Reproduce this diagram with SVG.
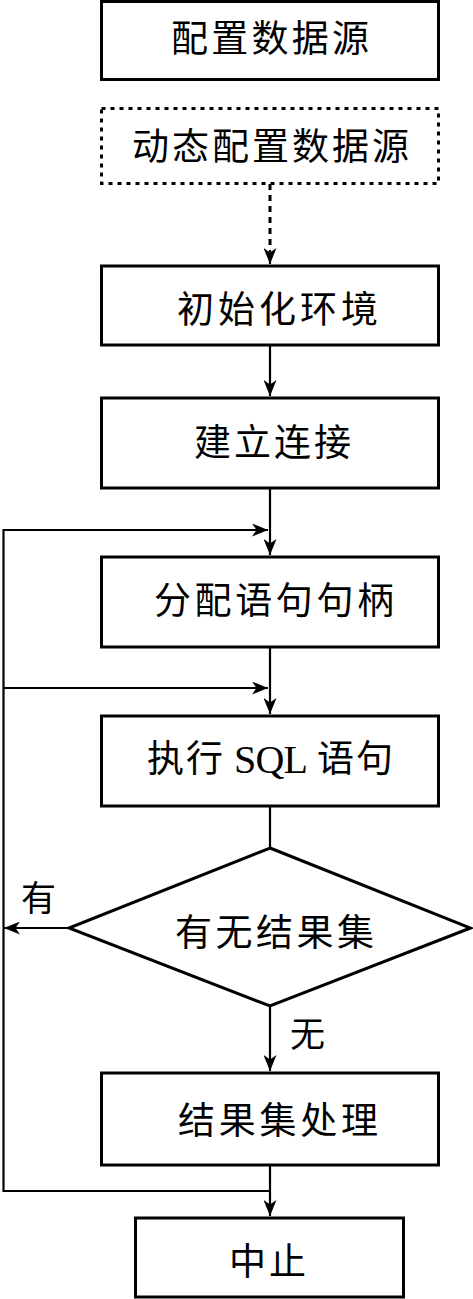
<svg xmlns="http://www.w3.org/2000/svg" width="473" height="1299" viewBox="0 0 473 1299">
<style>
.box{fill:#fff;stroke:#000;stroke-width:3}
.dot{fill:#fff;stroke:#000;stroke-width:3;stroke-dasharray:4 5}
.ln{fill:none;stroke:#000;stroke-width:2.2}
.dash{fill:none;stroke:#000;stroke-width:3;stroke-dasharray:6 5}
text{font-family:"Liberation Serif","Noto Sans CJK SC",serif;font-size:37px;fill:#000;dominant-baseline:central}
.lbl{font-size:35px}
</style>
<defs>
<marker id="ah" markerUnits="userSpaceOnUse" markerWidth="17" markerHeight="13" refX="16" refY="6.5" orient="auto">
<path d="M0,0 L16,6.5 L0,13 L4.5,6.5 z" fill="#000"/>
</marker>
</defs>
<g id="connectors">
<path class="dash" d="M270,184 V250"/>
<path class="ln" d="M270,250 V264" marker-end="url(#ah)"/>
<path class="ln" d="M270,345 V396" marker-end="url(#ah)"/>
<path class="ln" d="M270,488 V555" marker-end="url(#ah)"/>
<path class="ln" d="M270,647 V714" marker-end="url(#ah)"/>
<path class="ln" d="M270,806 V848"/>
<path class="ln" d="M69,928 H4" marker-end="url(#ah)"/>
<path class="ln" d="M270,1006 V1071" marker-end="url(#ah)"/>
<path class="ln" d="M270,1165 V1216" marker-end="url(#ah)"/>
<path class="ln" d="M270,1191 H3.5 V530 H268" marker-end="url(#ah)"/>
<path class="ln" d="M3.5,688 H268" marker-end="url(#ah)"/>
<text class="lbl" x="21" y="899" textLength="35">有</text>
<text class="lbl" x="290" y="1035" textLength="37">无</text>
</g>
<g id="n1"><rect class="box" x="101.5" y="1.5" width="337" height="78"/><text x="171" y="39" textLength="198">配置数据源</text></g>
<g id="n2"><rect class="dot" x="101.5" y="108.5" width="337" height="75"/><text x="132" y="147" textLength="277">动态配置数据源</text></g>
<g id="n3"><rect class="box" x="101.5" y="266" width="337" height="79"/><text x="177" y="310" textLength="201">初始化环境</text></g>
<g id="n4"><rect class="box" x="101.5" y="398" width="337" height="90"/><text x="194" y="443" textLength="157">建立连接</text></g>
<g id="n5"><rect class="box" x="101.5" y="557" width="337" height="90"/><text x="154" y="601" textLength="240">分配语句句柄</text></g>
<g id="n6"><rect class="box" x="101.5" y="716" width="337" height="90"/><text y="759"><tspan x="147" textLength="76">执行</tspan><tspan x="234" font-size="40" textLength="74">SQL</tspan><tspan x="317" textLength="76">语句</tspan></text></g>
<g id="n7"><polygon class="box" points="270,848 470.5,928 270,1006 69,928"/><text x="175" y="933" textLength="199">有无结果集</text></g>
<g id="n8"><rect class="box" x="101.5" y="1073" width="337" height="92"/><text x="178" y="1121" textLength="200">结果集处理</text></g>
<g id="n9"><rect class="box" x="135.5" y="1218" width="268" height="79"/><text x="229" y="1262" textLength="77">中止</text></g>
</svg>
